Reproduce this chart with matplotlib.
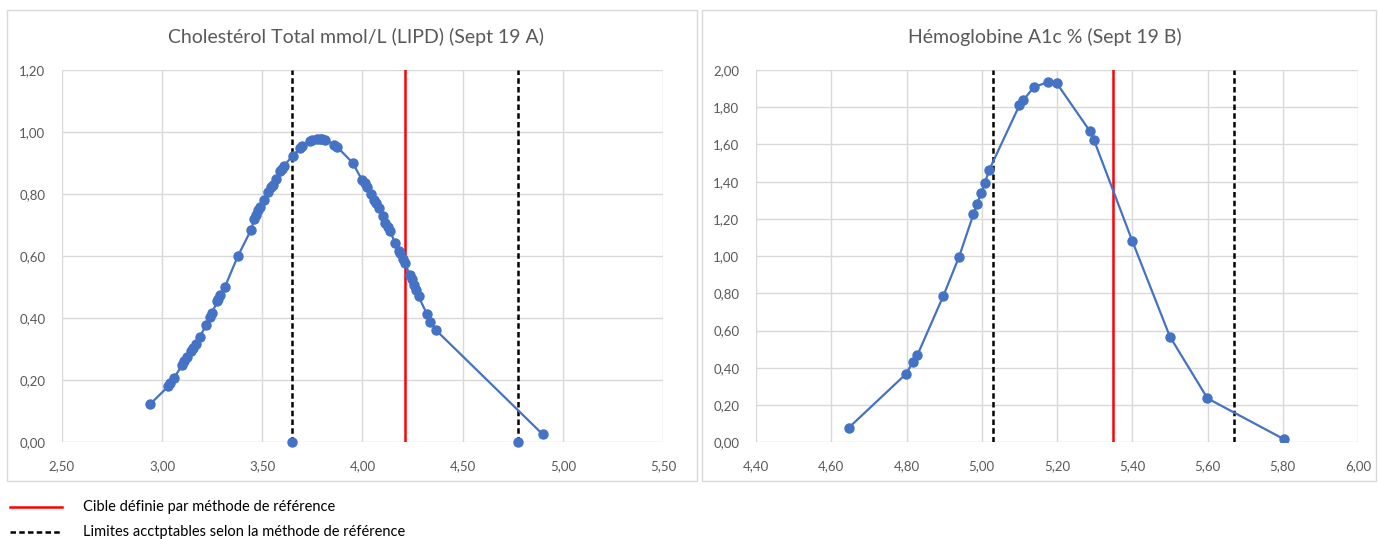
import matplotlib.pyplot as plt
from matplotlib.lines import Line2D
from matplotlib.patches import Rectangle
from matplotlib.ticker import FuncFormatter, MultipleLocator

plt.rcParams['font.family'] = ['Lato', 'DejaVu Sans']

# Cholestérol total (Sept 19 A)
chol_x = [2.94, 3.03, 3.04, 3.058, 3.10, 3.11, 3.125, 3.145, 3.155, 3.168, 3.188, 3.22,
          3.24, 3.25, 3.274, 3.28, 3.29, 3.312, 3.377, 3.444, 3.46, 3.47, 3.48, 3.49,
          3.507, 3.528, 3.545, 3.553, 3.57, 3.59, 3.60, 3.606, 3.651, 3.69, 3.70, 3.739,
          3.75, 3.772, 3.79, 3.80, 3.814, 3.86, 3.872, 3.952, 3.997, 4.01, 4.022, 4.04,
          4.055, 4.065, 4.08, 4.10, 4.113, 4.125, 4.138, 4.163, 4.18, 4.185, 4.20, 4.213,
          4.235, 4.245, 4.255, 4.265, 4.28, 4.321, 4.338, 4.366, 4.899]
chol_y = [0.123, 0.180, 0.192, 0.206, 0.249, 0.262, 0.276, 0.295, 0.303, 0.318, 0.341, 0.378,
          0.405, 0.418, 0.454, 0.462, 0.475, 0.499, 0.599, 0.685, 0.720, 0.733, 0.748, 0.76,
          0.782, 0.808, 0.822, 0.83, 0.848, 0.873, 0.882, 0.889, 0.924, 0.948, 0.955, 0.972,
          0.974, 0.977, 0.978, 0.977, 0.975, 0.958, 0.953, 0.90, 0.846, 0.835, 0.823, 0.80,
          0.782, 0.770, 0.755, 0.728, 0.706, 0.695, 0.68, 0.642, 0.616, 0.61, 0.590, 0.577,
          0.54, 0.525, 0.507, 0.490, 0.47, 0.414, 0.389, 0.362, 0.026]
chol_cible = 4.21
chol_limites = [3.646, 4.774]

# Hémoglobine A1c (Sept 19 B)
hba_x = [4.647, 4.798, 4.818, 4.829, 4.898, 4.94, 4.978, 4.988, 4.998, 5.008, 5.02,
         5.10, 5.11, 5.139, 5.177, 5.199, 5.288, 5.298, 5.40, 5.50, 5.60, 5.802]
hba_y = [0.079, 0.366, 0.433, 0.469, 0.787, 0.998, 1.226, 1.281, 1.339, 1.392, 1.464,
         1.81, 1.837, 1.909, 1.935, 1.93, 1.67, 1.625, 1.082, 0.568, 0.236, 0.018]
hba_cible = 5.35
hba_limites = [5.029, 5.671]

blue = '#4472C4'
grey_txt = '#595959'
grid_c = '#d9d9d9'
dash = (0, (2.2, 1.3))

W, H = 1379, 539
fig = plt.figure(figsize=(W / 100, H / 100), dpi=100)

# chart area borders
for x0, x1 in [(7, 697), (702, 1376)]:
    fig.patches.append(Rectangle((x0 / W, 1 - 481 / H), (x1 - x0) / W, (481 - 10) / H,
                                 transform=fig.transFigure, fill=False,
                                 edgecolor=grid_c, linewidth=1))

fmt = FuncFormatter(lambda v, p: f"{v:.2f}".replace('.', ','))


def setup(ax, xlim, xstep, ylim, ystep, title, title_x):
    ax.set_xlim(*xlim)
    ax.set_ylim(*ylim)
    ax.xaxis.set_major_locator(MultipleLocator(xstep))
    ax.yaxis.set_major_locator(MultipleLocator(ystep))
    ax.xaxis.set_major_formatter(fmt)
    ax.yaxis.set_major_formatter(fmt)
    ax.grid(True, color=grid_c, linewidth=1)
    ax.set_axisbelow(True)
    for s in ax.spines.values():
        s.set_visible(False)
    ax.tick_params(length=0, colors=grey_txt, labelsize=9.5)
    ax.tick_params(axis='x', pad=13)
    ax.tick_params(axis='y', pad=12)
    fig.text(title_x / W, 1 - 37 / H, title, ha='center', va='center',
             color=grey_txt, fontsize=14)


bottom = 1 - 442.3 / H
height = (442.3 - 70) / H
ms = 6.5

ax1 = fig.add_axes([62 / W, bottom, (663 - 62) / W, height])
setup(ax1, (2.5, 5.5), 0.5, (0, 1.2), 0.2, "Cholestérol Total mmol/L (LIPD) (Sept 19 A)", 356)
ax1.plot(chol_x, chol_y, color=blue, linewidth=1.6, marker='o', markersize=ms, zorder=3)
ax1.plot([chol_cible, chol_cible], [0, 1.2], color='#FF0000', linewidth=1.8, zorder=2)
for lx in chol_limites:
    ax1.plot([lx, lx], [0, 1.2], color='black', linewidth=1.8, linestyle=dash, zorder=2)
    ax1.plot([lx], [0], color=blue, marker='o', markersize=ms, zorder=4, clip_on=False)

ax2 = fig.add_axes([756 / W, bottom, (1358 - 756) / W, height])
setup(ax2, (4.4, 6.0), 0.2, (0, 2.0), 0.2, "Hémoglobine A1c % (Sept 19 B)", 1045)
ax2.plot(hba_x, hba_y, color=blue, linewidth=1.6, marker='o', markersize=ms, zorder=3)
ax2.plot([hba_cible, hba_cible], [0, 2.0], color='#FF0000', linewidth=1.8, zorder=2)
for lx in hba_limites:
    ax2.plot([lx, lx], [0, 2.0], color='black', linewidth=1.8, linestyle=dash, zorder=2)

# legend below charts
fig.lines.append(Line2D([10 / W, 62 / W], [1 - 507 / H] * 2, transform=fig.transFigure,
                        color='#FF0000', linewidth=1.8))
fig.lines.append(Line2D([10 / W, 62 / W], [1 - 532 / H] * 2, transform=fig.transFigure,
                        color='black', linewidth=1.8, linestyle=dash))
fig.text(83 / W, 1 - 507 / H, "Cible définie par méthode de référence",
         ha='left', va='center', fontsize=10.5, color='black')
fig.text(83 / W, 1 - 532 / H, "Limites acctptables selon la méthode de référence",
         ha='left', va='center', fontsize=10.5, color='black')

fig.savefig("out.png", dpi=100)
plt.close(fig)
